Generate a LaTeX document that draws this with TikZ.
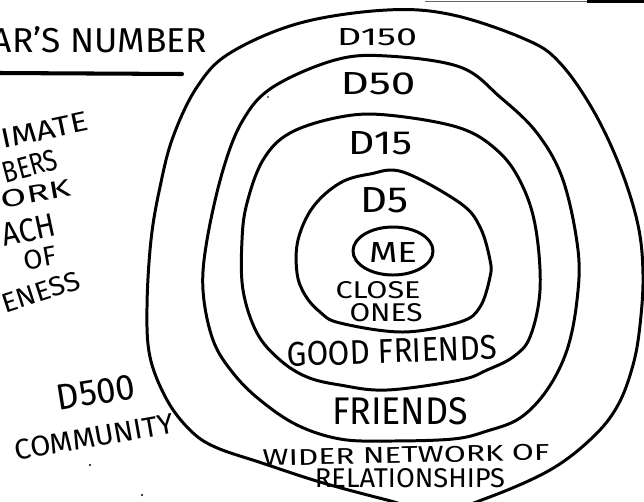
\documentclass[tikz,border=0pt]{standalone}
\usepackage{fontspec}
\usepackage{graphicx}
\setmainfont{Fira Sans}
\newlength\pu
\setlength\pu{0.02cm}
\newcommand\handtxt[3]{\resizebox{#1\pu}{#2\pu}{#3}}
\begin{document}
\begin{tikzpicture}[x=0.02cm,y=-0.02cm,
  ring/.style={line width=1.7pt,line join=round},
  lbl/.style={inner sep=0pt,outer sep=0pt,anchor=center}]
\clip (0,0) rectangle (644,501);
\fill[white] (0,0) rectangle (644,501);

% rings
\draw[ring] plot[smooth cycle,tension=0.6] coordinates {(387,10) (453,15) (527,40) (560,63) (593,110) (620,167) (638,225) (643,275) (640,325) (633,365) (618,405) (593,437) (550,470) (487,498) (437,512) (387,500) (320,482) (262,463) (215,447) (190,430) (167,400) (150,357) (147,307) (151,240) (160,187) (173,137) (197,87) (230,53) (300,23)};
\draw[ring] plot[smooth cycle,tension=0.6] coordinates {(387,56) (460,67) (500,97) (537,133) (563,180) (578,250) (577,300) (567,350) (547,390) (520,418) (487,431) (453,439) (387,441) (340,439) (297,425) (260,400) (233,373) (213,340) (203,290) (207,240) (223,170) (243,120) (273,87) (335,60)};
\draw[ring] plot[smooth cycle,tension=0.6] coordinates {(387,115) (460,128) (500,153) (523,187) (536,230) (540,290) (530,337) (513,357) (487,370) (460,380) (387,390) (340,385) (307,377) (280,360) (257,333) (243,290) (242,240) (247,203) (263,160) (290,133) (340,117)};
\draw[ring] plot[smooth cycle,tension=0.6] coordinates {(403,172) (460,203) (480,227) (490,260) (490,277) (480,307) (460,322) (403,332) (340,323) (320,312) (305,295) (297,273) (298,240) (313,207) (340,183) (370,174)};
\draw[ring] (393,251) ellipse [x radius=40,y radius=24];

% ring labels
\node[lbl] (d150) at (377,37) {\handtxt{80}{17}{D150}};
\node[lbl] (d50) at (378,84) {\handtxt{75}{22}{D50}};
\node[lbl] (d15) at (380,143) {\handtxt{64}{23}{D15}};
\node[lbl] (d5) at (384,200) {\handtxt{48}{25}{D5}};
\node[lbl] (me) at (393,252) {\handtxt{48}{20}{ME}};
\node[lbl] (close) at (378,290) {\handtxt{85}{17}{CLOSE}};
\node[lbl] (ones) at (386,313) {\handtxt{73}{18}{ONES}};
\node[lbl,rotate=2] (good) at (392,351) {\handtxt{210}{24}{GOOD FRIENDS}};
\node[lbl] (friends) at (400,411) {\handtxt{136}{27}{FRIENDS}};
\node[lbl,rotate=1.2] (wider) at (406,455) {\handtxt{287}{16}{WIDER NETWORK OF}};
\node[lbl] (rel) at (410,478) {\handtxt{190}{19}{RELATIONSHIPS}};

% D500 community
\node[lbl,rotate=9] (d500) at (96,392) {\handtxt{79}{25}{D500}};
\node[lbl,rotate=10] (comm) at (94,437) {\handtxt{161}{20}{COMMUNITY}};

% title
\node[lbl,anchor=south west] (title) at (-8,53) {\handtxt{215}{26}{AR'S NUMBER}};
\draw[line width=2.3pt,line cap=round] (0,73) -- (182,74);

% left text block
\node[lbl,rotate=12] (t1) at (45,130) {\handtxt{88}{19}{IMATE}};
\node[lbl,rotate=15] (t2) at (30,166) {\handtxt{56}{21}{BERS}};
\node[lbl,rotate=10] (t3) at (36,194) {\handtxt{70}{17}{ORK}};
\node[lbl,rotate=12] (t4) at (29,230) {\handtxt{54}{23}{ACH}};
\node[lbl,rotate=10] (t5) at (40,258) {\handtxt{33}{19}{OF}};
\node[lbl,rotate=18] (t6) at (41,292) {\handtxt{81}{19}{ENESS}};

% top edge marks
\draw[line width=0.5pt,black!60] (425,1) -- (587,1);
\draw[line width=2.2pt] (587,1) -- (644,1);

% specks
\fill (90,465) circle (1.2);
\fill (142,495) circle (1.2);
\fill (268,97) circle (0.8);
\end{tikzpicture}
\end{document}
